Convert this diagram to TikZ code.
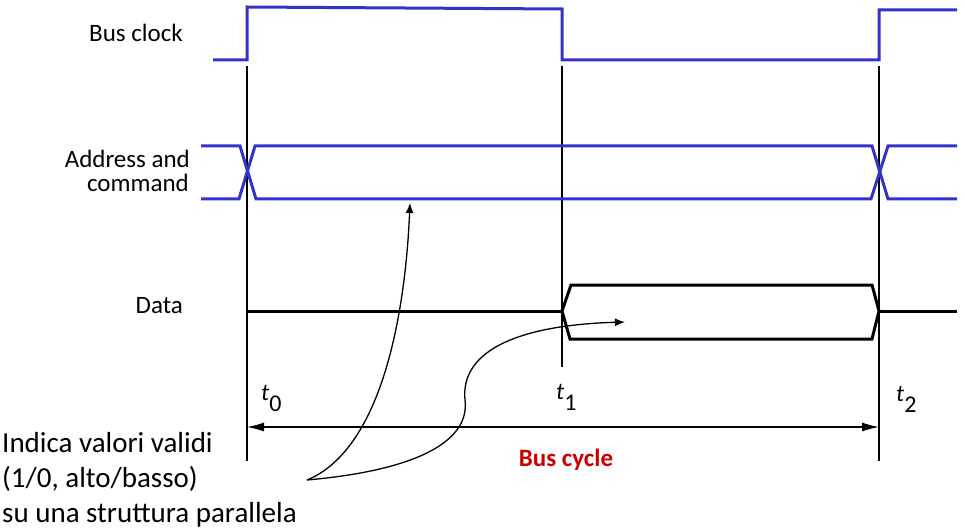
\documentclass[tikz,border=0pt]{standalone}
\usepackage{fontspec}
\setmainfont{Carlito}
\usetikzlibrary{arrows.meta}
\definecolor{sigblue}{RGB}{51,51,204}
\definecolor{cycred}{RGB}{204,0,0}
\begin{document}
\begin{tikzpicture}[x=1pt,y=-1pt,
  sig/.style={draw=sigblue,line width=3pt,line join=miter},
  dat/.style={draw=black,line width=3pt,line join=miter},
  vline/.style={draw=black,line width=1.5pt},
  lbl/.style={font=\fontsize{25}{25}\selectfont,anchor=base east,inner sep=0pt},
  note/.style={font=\fontsize{29}{35}\selectfont,anchor=base west,inner sep=0pt},
  tlbl/.style={font=\fontsize{24}{24}\selectfont,anchor=base west,inner sep=0pt},
  callout/.style={draw=black,line width=1.3pt,-{Latex[length=10pt,width=8pt]}},
  span/.style={draw=black,line width=1.3pt,{Latex[length=17pt,width=9pt]}-{Latex[length=17pt,width=9pt]}}]
\useasboundingbox (0,0) rectangle (965,529);
% labels
\node[lbl] (lclk) at (183,42) {Bus clock};
\node[lbl] (laddr1) at (190,168) {Address and};
\node[lbl] (laddr2) at (189,192) {command};
\node[lbl] (ldata) at (183,313) {Data};
% vertical time lines
\coordinate (v0t) at (247,66); \coordinate (v0b) at (247,461);
\coordinate (v1t) at (562,66); \coordinate (v1b) at (562,367);
\coordinate (v2t) at (879,66); \coordinate (v2b) at (879,461);
\draw[vline] (v0t) -- (v0b);
\draw[vline] (v1t) -- (v1b);
\draw[vline] (v2t) -- (v2b);
% bus clock
\draw[sig] (213,60) -- (247,60) -- (247,7) -- (562,9) -- (562,60) -- (879,60) -- (879,10) -- (957,10);
% address and command
\draw[sig] (201,146) -- (240,146) -- (256,199) -- (871,199) -- (888,146) -- (957,146);
\draw[sig] (201,199) -- (239,199) -- (255,146) -- (872,146) -- (888,199) -- (957,199);
% data
\draw[dat] (247,311) -- (562,311);
\draw[dat] (562,311) -- (571,285) -- (872,285) -- (879,311) -- (872,339) -- (570,339) -- cycle;
\draw[dat] (879,311) -- (957,311);
% time labels
\node[tlbl] (t0) at (261,400) {\textit{t}\raisebox{-11pt}{0}};
\node[tlbl] (t1) at (556,399) {\textit{t}\raisebox{-11pt}{1}};
\node[tlbl] (t2) at (896,401) {\textit{t}\raisebox{-11pt}{2}};
% bus cycle span
\coordinate (s0) at (247,427);
\coordinate (s2) at (879,427);
\draw[span] (s0) -- (s2);
\node[font=\bfseries\fontsize{25}{25}\selectfont,text=cycred,inner sep=0pt] (cyc) at (566,460) {Bus cycle};
% note text
\node[note] (n1) at (2,452) {Indica valori validi};
\node[note] (n2) at (2,487) {(1/0, alto/basso)};
\node[note] (n3) at (2,522) {su una struttura parallela};
% callouts
\coordinate (src) at (307,480);
\coordinate (addrpt) at (410,203);
\coordinate (datapt) at (625,322);
\draw[callout] (src) .. controls (380,450) and (405,320) .. (addrpt);
\draw[callout] (src) .. controls (420,470) and (470,440) .. (465,400) .. controls (460,350) and (520,325) .. (datapt);
\end{tikzpicture}
\end{document}
